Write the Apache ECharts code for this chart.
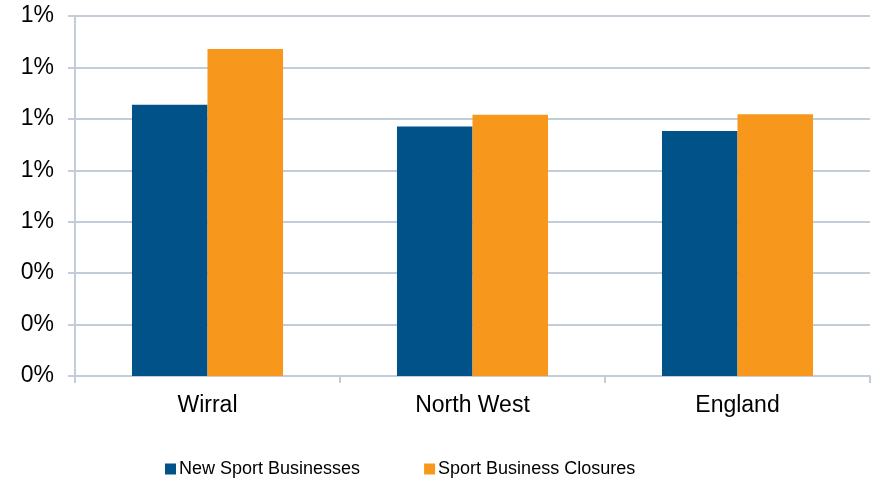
<!DOCTYPE html>
<html>
<head>
<meta charset="utf-8">
<script src="https://cdn.jsdelivr.net/npm/echarts@6/dist/echarts.min.js"></script>
<style>
  html, body { margin: 0; padding: 0; background: #fff; }
  #main { width: 872px; height: 486px; }
</style>
</head>
<body>
<div id="main"></div>
<script>
  // values in percent
  var categories = ['Wirral', 'North West', 'England'];
  var newBusinesses = [1.055, 0.97, 0.953];
  var closures = [1.272, 1.016, 1.018];
  var seriesNames = ['New Sport Businesses', 'Sport Business Closures'];

  var axisColor = '#c3cdd9';
  var font = '"Liberation Sans", Arial, sans-serif';

  var myChart = echarts.init(document.getElementById('main'));
  myChart.setOption({
    animation: false,
    color: ['#02528a', '#f7981d'],
    grid: { left: 75, right: 2, top: 16, bottom: 110 },
    legend: {
      bottom: 3,
      left: 160,
      itemWidth: 11,
      itemHeight: 11,
      itemGap: 64,
      icon: 'rect',
      textStyle: { color: '#000', fontSize: 18, fontFamily: font, padding: [0, 0, 0, -2] },
      data: seriesNames
    },
    xAxis: {
      type: 'category',
      data: categories,
      axisLine: { lineStyle: { color: axisColor, width: 2 } },
      axisTick: { show: true, length: 7, lineStyle: { color: axisColor, width: 2 } },
      axisLabel: { color: '#000', fontSize: 23, fontFamily: font, margin: 18 }
    },
    yAxis: {
      type: 'value',
      min: 0,
      max: 1.4,
      interval: 0.2,
      axisLine: { show: true, lineStyle: { color: axisColor, width: 2 } },
      axisTick: { show: true, length: 7, lineStyle: { color: axisColor, width: 2 } },
      splitLine: { lineStyle: { color: axisColor, width: 2 } },
      axisLabel: {
        color: '#000', fontSize: 23, fontFamily: font, margin: 21,
        formatter: function (v) { return Math.round(v) + '%'; }
      }
    },
    series: [
      { name: seriesNames[0], type: 'bar', data: newBusinesses, barGap: '0%', barCategoryGap: '43%' },
      { name: seriesNames[1], type: 'bar', data: closures, barGap: '0%', barCategoryGap: '43%' }
    ]
  });
</script>
</body>
</html>
